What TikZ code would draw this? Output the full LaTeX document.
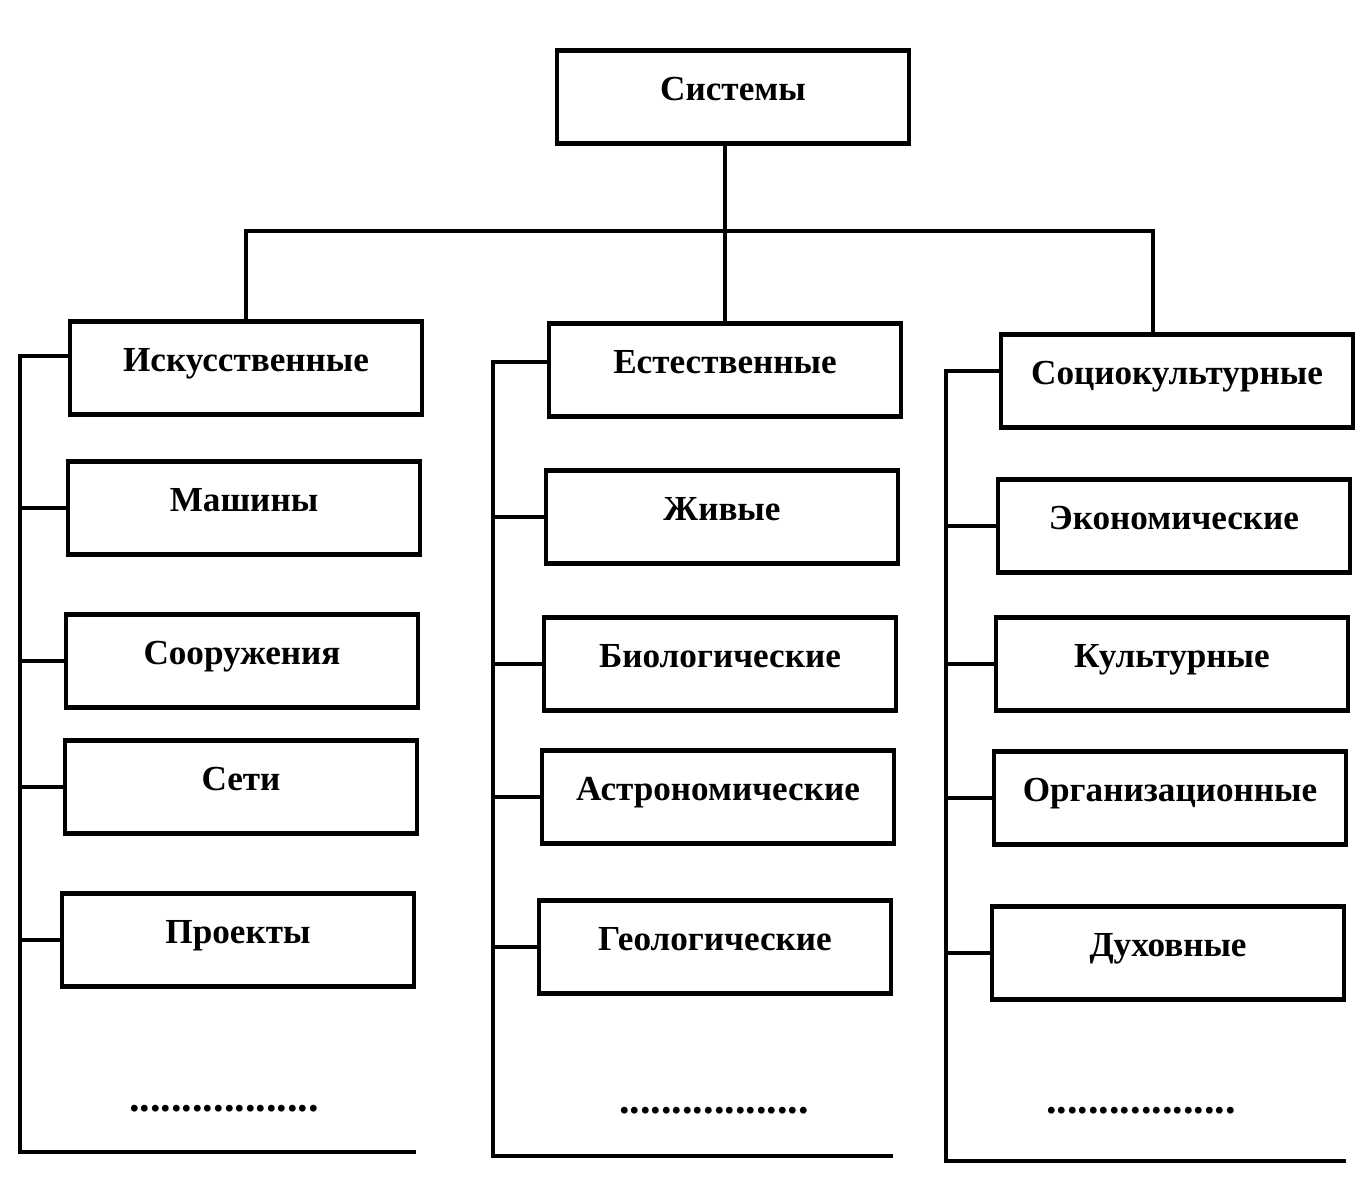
\documentclass[tikz,border=0pt]{standalone}
\usepackage{fontspec}
\setmainfont{Liberation Serif}
\usepackage{tikz}
\usetikzlibrary{positioning, calc}

\begin{document}
\begin{tikzpicture}[
    x=0.01cm, y=-0.01cm,
    font=\fontsize{10}{12}\selectfont\bfseries,
    box/.style={draw, line width=1.2pt, minimum width=3.52cm, minimum height=0.93cm, inner sep=0pt, text height=1.4ex, text depth=1ex, align=center},
    link/.style={draw, line width=1pt},
    dotline/.style={font=\fontsize{12}{14}\selectfont\bfseries, anchor=base}
]
    \useasboundingbox (0,0) rectangle (1371,1194);

    % Root
    \node[box] (sys) at (733, 97) {Системы};

    % Artificial column
    \node[box] (art) at (246, 368) {Искусственные};
    \node[box] (mach) at (244, 508) {Машины};
    \node[box] (build) at (242, 661) {Сооружения};
    \node[box] (net) at (241, 787) {Сети};
    \node[box] (proj) at (238, 940) {Проекты};
    \node[dotline] (dotsA) at (224, 1111) {..................};

    % Natural column
    \node[box] (nat) at (725, 370) {Естественные};
    \node[box] (live) at (722, 517) {Живые};
    \node[box] (bio) at (720, 664) {Биологические};
    \node[box] (astro) at (718, 797) {Астрономические};
    \node[box] (geo) at (715, 947) {Геологические};
    \node[dotline] (dotsB) at (714, 1113) {..................};

    % Sociocultural column
    \node[box] (soc) at (1177, 381) {Социокультурные};
    \node[box] (econ) at (1174, 526) {Экономические};
    \node[box] (cult) at (1172, 664) {Культурные};
    \node[box] (org) at (1170, 798) {Организационные};
    \node[box] (spirit) at (1168, 953) {Духовные};
    \node[dotline] (dotsC) at (1141, 1113) {..................};

    % Bus from the root
    \coordinate (bus) at (0, 231);
    \coordinate (socTop) at ([xshift=-0.24cm]soc.north);
    \draw[link] (sys.south -| nat.north) -- (nat.north);
    \draw[link] (art.north) -- (art.north |- bus) -- (socTop |- bus) -- (socTop);

    % Spines
    \coordinate (spineA) at (20, 1152);
    \coordinate (spineB) at (493, 1156);
    \coordinate (spineC) at (946, 1161);
    \draw[link] ([yshift=0.12cm]art.west) -| (spineA) -- (proj.east |- spineA);
    \draw[link] ([yshift=0.08cm]nat.west) -| (spineB) -- (geo.east |- spineB);
    \draw[link] ([yshift=0.1cm]soc.west) -| (spineC) -- (spirit.east |- spineC);

    % Ticks to the boxes
    \foreach \n in {mach, build, net, proj} {
        \draw[link] (\n.west) -- (\n.west -| spineA);
    }
    \foreach \n in {live, bio, astro, geo} {
        \draw[link] (\n.west) -- (\n.west -| spineB);
    }
    \foreach \n in {econ, cult, org, spirit} {
        \draw[link] (\n.west) -- (\n.west -| spineC);
    }

\end{tikzpicture}
\end{document}
